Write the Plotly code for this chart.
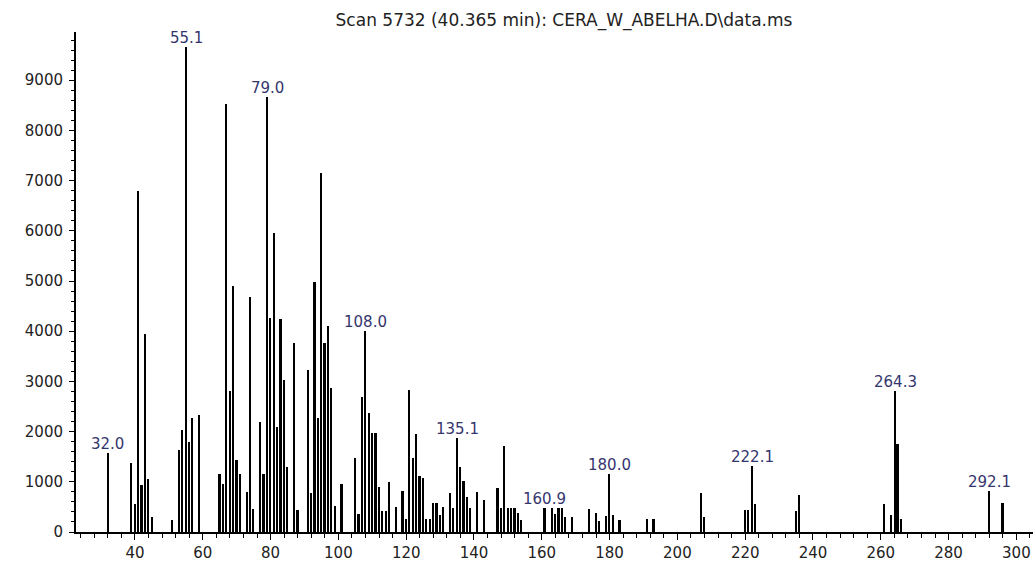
import plotly.graph_objects as go

title_text = "Scan 5732 (40.365 min): CERA_W_ABELHA.D\\data.ms"

mz = [32.0, 39, 40, 41, 42, 43, 44, 45, 51, 53, 54, 55.1, 56, 57, 59,
      65, 66, 67, 68, 69, 70, 71, 73, 74, 75, 77, 78, 79.0, 80, 81, 82, 83, 84, 85,
      87, 88, 91, 92, 93, 94, 95, 96, 97, 98, 99, 101, 105, 106, 107, 108.0, 109,
      110, 111, 112, 113, 114, 115, 117, 119, 120, 121, 122, 123, 124, 125, 126, 127,
      128, 129, 130, 131, 133, 134, 135.1, 136, 137, 138, 139, 141, 143, 147, 148,
      149, 150, 151, 152, 153, 154, 160.9, 163, 164, 165, 166, 167, 169, 174, 176,
      177, 179, 180.0, 181, 183, 191, 193, 207, 208, 220, 221, 222.1, 223, 235, 236,
      261, 263, 264.3, 265, 266, 292.1, 296]

abundance = [1570, 1380, 560, 6800, 930, 3940, 1050, 290, 245, 1625, 2030, 9660, 1790, 2265, 2335,
             1150, 965, 8520, 2810, 4900, 1435, 1150, 790, 4690, 460, 2200, 1150, 8660, 4260, 5950, 2090, 4240, 3030, 1300,
             3760, 435, 3220, 770, 4980, 2270, 7160, 3760, 4100, 2860, 525, 960, 1480, 360, 2690, 4010, 2380,
             1975, 1975, 890, 410, 410, 1000, 505, 810, 265, 2830, 1480, 1955, 1120, 1070, 250, 250,
             570, 570, 330, 490, 770, 475, 1875, 1295, 1020, 690, 475, 790, 645, 870, 475,
             1710, 475, 475, 475, 380, 245, 475, 475, 360, 475, 475, 295, 295, 460, 380,
             215, 310, 1165, 340, 245, 265, 265, 770, 295, 440, 440, 1315, 560, 415, 745,
             560, 340, 2810, 1760, 265, 810, 570]

labeled_mz = [32.0, 55.1, 79.0, 108.0, 135.1, 160.9, 180.0, 222.1, 264.3, 292.1]

x_ticks = [40, 60, 80, 100, 120, 140, 160, 180, 200, 220, 240, 260, 280, 300]
y_ticks = [0, 1000, 2000, 3000, 4000, 5000, 6000, 7000, 8000, 9000]

FONT = "DejaVu Sans"

fig = go.Figure()
fig.add_trace(go.Bar(
    x=mz, y=abundance, width=0.5,
    marker=dict(color="black", line=dict(width=0)),
    hoverinfo="x+y",
))

for m in labeled_mz:
    a = abundance[mz.index(m)]
    fig.add_annotation(
        x=m, y=a, text=f"{m:.1f}", showarrow=False,
        xanchor="center", yanchor="bottom", yshift=-2,
        font=dict(family=FONT, size=15, color="#35356e"),
    )

fig.update_layout(
    width=1033, height=562,
    margin=dict(l=76, r=0, t=32, b=24),
    plot_bgcolor="white", paper_bgcolor="white",
    showlegend=False, bargap=0,
    title=dict(
        text=title_text, x=0.546, xanchor="center", xref="container",
        y=1 - 20 / 562, yanchor="middle", yref="container",
        font=dict(family=FONT, size=17, color="#222222"),
    ),
    xaxis=dict(
        range=[22.6, 304.9], tickvals=x_ticks,
        ticks="outside", ticklen=6, tickwidth=1.3, tickcolor="black",
        showline=True, linecolor="black", linewidth=1.5,
        showgrid=False, zeroline=False,
        minor=dict(dtick=4, tick0=0, ticks="outside", ticklen=4, tickwidth=1.2, tickcolor="black", showgrid=False),
        tickfont=dict(family=FONT, size=15, color="#222222"),
    ),
    yaxis=dict(
        range=[0, 9960], tickvals=y_ticks,
        ticks="outside", ticklen=5, tickwidth=1.3, tickcolor="black",
        showline=True, linecolor="black", linewidth=2,
        showgrid=False, zeroline=False,
        minor=dict(dtick=200, tick0=0, ticks="outside", ticklen=3, tickwidth=1, tickcolor="black", showgrid=False),
        tickfont=dict(family=FONT, size=15, color="#222222"),
        ticklabelstandoff=3,
    ),
)

fig.write_html("out.html", config={"displayModeBar": False},
               post_script="document.body.style.margin='0';")
